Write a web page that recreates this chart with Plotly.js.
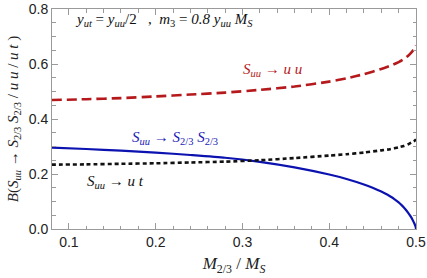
<!DOCTYPE html>
<html><head><meta charset="utf-8">
<script src="https://cdn.plot.ly/plotly-3.0.1.min.js"></script>
<style>html,body{margin:0;padding:0;background:#fff}#chart{width:427px;height:278px}</style>
</head><body><div id="chart"></div>
<script>
// Branching ratios vs M_{2/3}/M_S
const xUU = [0.08, 0.12, 0.16, 0.20, 0.24, 0.28, 0.32, 0.36, 0.40, 0.42, 0.44, 0.46, 0.47, 0.48, 0.486, 0.491, 0.495, 0.498, 0.5];
const yUU = [0.469, 0.472, 0.476, 0.482, 0.489, 0.496, 0.506, 0.518, 0.536, 0.548, 0.563, 0.582, 0.593, 0.607, 0.618, 0.630, 0.643, 0.655, 0.668];

const xSS = [0.08, 0.12, 0.16, 0.20, 0.24, 0.28, 0.32, 0.36, 0.40, 0.42, 0.44, 0.45, 0.46, 0.465, 0.47, 0.475, 0.48, 0.484, 0.488, 0.491, 0.494, 0.496, 0.498, 0.499, 0.4997, 0.5];
const ySS = [0.296, 0.291, 0.285, 0.278, 0.269, 0.259, 0.244, 0.224, 0.198, 0.182, 0.162, 0.150, 0.136, 0.128, 0.119, 0.109, 0.097, 0.085, 0.071, 0.059, 0.045, 0.034, 0.021, 0.013, 0.006, 0.0];

const xUT = [0.08, 0.12, 0.16, 0.20, 0.24, 0.28, 0.32, 0.36, 0.40, 0.42, 0.44, 0.46, 0.47, 0.48, 0.486, 0.491, 0.495, 0.498, 0.5];
const yUT = [0.234, 0.235, 0.237, 0.239, 0.242, 0.245, 0.250, 0.258, 0.267, 0.272, 0.278, 0.286, 0.290, 0.297, 0.302, 0.308, 0.315, 0.320, 0.326];

const xTicks = [0.1, 0.2, 0.3, 0.4, 0.5];
const yTicks = [0.0, 0.2, 0.4, 0.6, 0.8];

const serif = "Liberation Serif, Times New Roman, serif";
const sans = "Liberation Sans, Arial, sans-serif";

const traces = [
  {x: xUU, y: yUU, mode: 'lines', line: {color: '#b5191c', width: 2.6, dash: '10px,5px', shape: 'spline', smoothing: 0.5}, hoverinfo: 'skip'},
  {x: xSS, y: ySS, mode: 'lines', line: {color: '#0b12b0', width: 2.2, shape: 'spline', smoothing: 0.5}, hoverinfo: 'skip'},
  {x: xUT, y: yUT, mode: 'lines', line: {color: '#111111', width: 2.6, dash: '4px,3px', shape: 'spline', smoothing: 0.5}, hoverinfo: 'skip'}
];

const axisCommon = {
  showgrid: false, zeroline: false, showline: true, linecolor: '#9a9a9a', linewidth: 1,
  mirror: 'ticks', ticks: 'inside', ticklen: 6, tickcolor: '#9a9a9a', tickwidth: 1,
  tickfont: {family: sans, size: 14, color: '#222'}
};

const layout = {
  width: 427, height: 278,
  margin: {l: 52, r: 11, t: 9, b: 49},
  paper_bgcolor: '#fff', plot_bgcolor: '#fff',
  showlegend: false,
  xaxis: Object.assign({}, axisCommon, {
    range: [0.0805, 0.5], tickvals: xTicks, ticktext: xTicks.map(v => v.toFixed(1)),
    minor: {dtick: 0.02, tick0: 0, ticks: 'inside', ticklen: 3.5, tickcolor: '#9a9a9a', showgrid: false},
    title: {text: '<i>M</i><sub>2/3</sub> / <i>M<sub>S</sub></i>', font: {family: serif, size: 17, color: '#222'}, standoff: 8}
  }),
  yaxis: Object.assign({}, axisCommon, {
    range: [0, 0.8], tickvals: yTicks, ticktext: yTicks.map(v => v.toFixed(1)),
    minor: {dtick: 0.05, tick0: 0, ticks: 'inside', ticklen: 3.5, tickcolor: '#9a9a9a', showgrid: false},
    title: {text: '<i>B</i>(<i>S<sub>uu</sub></i> → <i>S</i><sub>2/3</sub> <i>S</i><sub>2/3</sub> / <i>u u</i> / <i>u t</i> )', font: {family: serif, size: 15, color: '#222'}, standoff: 6}
  }),
  annotations: [
    {x: 0.210, y: 0.761, xref: 'x', yref: 'y', showarrow: false,
     text: '<i>y<sub>ut</sub></i> = <i>y<sub>uu</sub></i>/2   ,  <i>m</i><sub>3</sub> = <i>0.8 y<sub>uu</sub> M<sub>S</sub></i>',
     font: {family: serif, size: 15, color: '#111'}},
    {x: 0.335, y: 0.578, xref: 'x', yref: 'y', showarrow: false,
     text: '<i>S<sub>uu</sub></i> → <i>u u</i>', font: {family: serif, size: 15, color: '#b5191c'}},
    {x: 0.222, y: 0.332, xref: 'x', yref: 'y', showarrow: false,
     text: '<i>S<sub>uu</sub></i> → <i>S</i><sub>2/3</sub> <i>S</i><sub>2/3</sub>', font: {family: serif, size: 15, color: '#1a1ab8'}},
    {x: 0.154, y: 0.171, xref: 'x', yref: 'y', showarrow: false,
     text: '<i>S<sub>uu</sub></i> → <i>u t</i>', font: {family: serif, size: 15, color: '#111'}}
  ]
};

Plotly.newPlot('chart', traces, layout, {staticPlot: true, displayModeBar: false});
</script>
</body></html>
